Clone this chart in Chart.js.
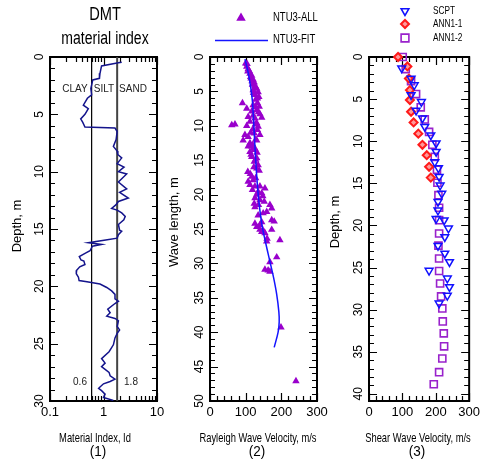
<!DOCTYPE html>
<html>
<head>
<meta charset="utf-8">
<script src="https://cdn.jsdelivr.net/npm/chart.js@4.4.1/dist/chart.umd.min.js"></script>
<style>
  html, body { margin: 0; padding: 0; background: #fff; }
  #wrap { position: relative; width: 484px; height: 464px; }
  #wrap canvas { position: absolute; left: 0; top: 0; }
</style>
</head>
<body>
<div id="wrap">
  <canvas id="c1" width="484" height="464"></canvas>
  <canvas id="c2" width="484" height="464"></canvas>
  <canvas id="c3" width="484" height="464"></canvas>
</div>
<script>
// ---- panel 1 : DMT material index, [Id, depth m] ----
const dmtProfile = [
  [2.19, 0.45], [1.9, 0.5], [0.92, 0.78], [0.86, 1.42], [0.84, 1.86], [0.63, 2.0], [0.58, 2.74],
  [0.6, 3.3], [0.5, 3.6], [0.42, 4.2], [0.52, 4.5], [0.45, 5.0], [0.375, 5.4], [0.41, 5.7],
  [0.45, 6.1], [1.64, 6.2], [1.8, 6.5], [1.72, 7.2], [1.53, 7.8], [1.8, 8.2], [1.85, 8.5],
  [2.19, 8.8], [1.8, 9.3], [2.42, 9.6], [1.9, 10.0], [2.71, 10.2], [1.9, 10.9], [2.71, 11.5],
  [2.0, 11.8], [2.91, 12.3], [1.9, 12.6], [1.7, 12.9], [1.42, 13.2], [1.8, 13.35], [2.19, 13.6],
  [2.55, 13.9], [2.4, 14.2], [1.9, 14.6], [2.0, 15.1], [2.19, 15.2], [1.9, 15.5], [1.8, 15.8],
  [1.1, 15.95], [0.52, 16.2], [0.92, 16.35], [0.62, 16.5], [0.56, 16.9], [0.46, 17.1], [0.353, 17.4],
  [0.38, 17.7], [0.43, 17.8], [0.45, 18.1], [0.36, 18.3], [0.315, 18.6], [0.31, 18.9], [0.34, 19.2],
  [0.35, 19.5], [0.49, 19.6], [0.86, 19.8], [1.15, 20.1], [1.42, 20.4], [1.64, 20.7], [1.64, 21.1],
  [1.9, 21.3], [1.64, 21.5], [1.2, 22.0], [1.33, 22.3], [1.15, 22.6], [1.64, 22.8], [1.9, 23.0],
  [1.8, 23.5], [2.0, 23.8], [1.8, 24.1], [1.64, 24.5], [1.53, 25.1], [1.27, 25.7], [0.92, 26.3],
  [1.07, 26.7], [0.92, 27.0], [1.27, 27.5], [1.33, 27.8], [1.64, 28.1], [1.33, 28.3], [1.0, 28.5],
  [0.85, 28.8], [0.81, 28.9], [0.92, 29.1], [1.07, 29.4], [1.0, 29.7], [1.53, 29.95]
];
const idBounds = [0.6, 1.8];
const idTicks = [0.1, 1, 10];
const idTickLabels = ['0.1', '1', '10'];
const depthTicks1 = [0, 5, 10, 15, 20, 25, 30];

// ---- panel 2 : Rayleigh wave velocity, [m/s, wave length m] ----
const ntu3All = [
  [100, 0.92], [104, 1.0], [103, 1.4], [107, 1.75], [110, 2.0], [106, 2.1], [112, 2.4], [117, 2.7],
  [114, 2.9], [115, 3.1], [121, 3.3], [118, 3.5], [124, 3.7], [119, 4.0], [126, 4.2], [128, 4.4],
  [131, 4.6], [121, 4.8], [135, 5.1], [122, 5.2], [126, 5.5], [137, 5.8], [133, 6.0], [128, 6.2],
  [91, 6.7], [133, 6.7], [121, 7.0], [138, 7.2], [128, 7.3], [103, 7.5], [131, 7.7], [117, 7.9],
  [136, 8.0], [140, 8.3], [121, 8.5], [107, 8.7], [145, 8.8], [126, 8.9], [112, 9.4], [131, 9.6],
  [70, 9.8], [127, 9.8], [61, 9.9], [103, 10.0], [135, 10.1], [120, 10.5], [133, 10.6], [114, 11.0],
  [124, 11.1], [98, 11.3], [140, 11.3], [107, 11.6], [128, 12.0], [93, 12.1], [131, 12.1],
  [112, 12.5], [120, 12.8], [117, 13.0], [107, 13.0], [126, 13.3], [121, 13.3], [126, 13.5],
  [112, 13.8], [132, 13.9], [115, 14.2], [117, 14.5], [131, 14.7], [128, 14.9], [124, 15.2],
  [135, 15.7], [123, 16.0], [131, 16.2], [138, 16.5], [106, 16.7], [113, 17.0], [117, 17.4],
  [128, 17.6], [121, 17.9], [107, 18.1], [112, 18.6], [126, 18.8], [140, 18.8], [154, 19.1],
  [119, 19.3], [135, 19.6], [145, 19.8], [131, 20.0], [148, 20.2], [126, 20.5], [140, 20.8],
  [152, 21.0], [124, 21.3], [168, 21.5], [136, 21.5], [126, 21.8], [173, 22.0], [159, 22.5],
  [149, 22.7], [135, 23.0], [173, 23.7], [180, 23.9], [145, 24.0], [126, 24.2], [140, 24.4],
  [131, 24.7], [140, 25.1], [173, 25.1], [150, 25.3], [145, 25.4], [154, 25.6], [160, 26.4],
  [196, 26.6], [159, 26.8], [187, 29.1], [168, 29.8], [154, 30.9], [163, 31.0], [168, 31.2],
  [199, 39.3], [241, 47.1]
];
const ntu3Fit = [
  [98, 0.3], [106, 2], [113, 4], [119, 6.5], [123, 10], [127, 14], [132, 18], [138, 21.5],
  [146, 24.5], [156, 27], [167, 29.5], [178, 32], [187, 34.5], [193, 37], [194, 38.5],
  [191, 40], [180, 42.2]
];
const velTicks = [0, 100, 200, 300];
const waveTicks = [0, 5, 10, 15, 20, 25, 30, 35, 40, 45, 50];

// ---- panel 3 : shear wave velocity, [m/s, depth m] ----
const scpt = [
  [98, 1.33], [126, 2.56], [135.5, 3.33], [126, 4.5], [157, 5.32], [141, 6.34], [160, 7.26],
  [167, 8.28], [185, 9.28], [201, 10.23], [201, 11.25], [197, 12.48], [208, 13.19], [210, 14.21],
  [213, 15.24], [218, 16.21], [206.6, 17.18], [206.6, 18.2], [201, 19.22], [225, 19.38],
  [238, 20.35], [227, 21.37], [206.6, 22.4], [227, 23.32], [241, 24.34], [180, 25.36],
  [234.6, 26.28], [241, 27.3], [234.6, 28.33], [210, 29.25]
];
const ann11 = [
  [87, 0], [115, 1.12], [119.6, 2.56], [122.5, 3.93], [122.5, 5.11], [126, 6.5], [133.6, 7.77],
  [147.7, 9.1], [160, 10.43], [173, 11.66], [180, 13.04], [185, 14.32]
];
const ann12 = [
  [101, 0], [110, 1.43], [126, 2.86], [141, 4.4], [155, 5.98], [167, 7.41], [180, 8.9],
  [189.8, 10.43], [197, 11.86], [203.6, 13.4], [205, 14.93], [208, 16.41], [210, 17.9],
  [210, 19.38], [210, 20.96], [208, 22.4], [210, 23.93], [210, 25.41], [213, 26.9], [216, 28.43],
  [219.6, 29.86], [221, 31.4], [224, 32.82], [225, 34.36], [219.6, 35.8], [210, 37.43], [194, 38.86]
];
const depthTicks3 = [0, 5, 10, 15, 20, 25, 30, 35, 40];

// ---- layout ----
const W = 484, H = 464, TOP = 57, BOTTOM = 401;
const FONT = "'Liberation Sans', Arial, sans-serif";
const toXY = arr => arr.map(([x, y]) => ({ x, y }));
function range(a, b, s) {
  const r = [];
  for (let v = a; v <= b + 1e-9; v += s) r.push(+v.toFixed(4));
  return r;
}

function txt(ctx, s, x, y, size, o = {}) {
  ctx.save();
  ctx.font = size + 'px ' + FONT;
  ctx.fillStyle = o.color || '#000';
  ctx.textAlign = o.align || 'center';
  ctx.textBaseline = 'middle';
  ctx.translate(x, y);
  if (o.rot) ctx.rotate(o.rot);
  ctx.scale(o.sx || 1, 1);
  ctx.fillText(s, 0, 0);
  ctx.restore();
}

function marker(ctx, style, x, y, radius, fill, stroke, bw, rotation) {
  ctx.save();
  ctx.fillStyle = fill;
  ctx.strokeStyle = stroke;
  ctx.lineWidth = bw;
  Chart.helpers.drawPoint(ctx, { pointStyle: style, radius, rotation: rotation || 0, borderWidth: bw }, x, y);
  ctx.restore();
}

// frame with inward ticks on all four sides
function frame(xMinor, xMajor, yMinor, yMajor) {
  return {
    id: 'frame',
    beforeDatasetsDraw(chart) {
      const { ctx, chartArea: a, scales: { x, y } } = chart;
      ctx.save();
      ctx.strokeStyle = '#000';
      ctx.lineWidth = 1.2;
      ctx.beginPath();
      const vt = (vals, len) => vals.forEach(v => {
        const p = Math.round(x.getPixelForValue(v)) + 0.5;
        ctx.moveTo(p, a.top); ctx.lineTo(p, a.top + len);
        ctx.moveTo(p, a.bottom); ctx.lineTo(p, a.bottom - len);
      });
      const ht = (vals, len) => vals.forEach(v => {
        const p = Math.round(y.getPixelForValue(v)) + 0.5;
        ctx.moveTo(a.left, p); ctx.lineTo(a.left + len, p);
        ctx.moveTo(a.right, p); ctx.lineTo(a.right - len, p);
      });
      vt(xMinor, 5); vt(xMajor, 8); ht(yMinor, 5); ht(yMajor, 8);
      ctx.stroke();
      ctx.lineWidth = 2;
      ctx.strokeRect(a.left, a.top, a.right - a.left, a.bottom - a.top);
      ctx.restore();
    }
  };
}

function options(left, right, xs, ys) {
  return {
    responsive: false,
    animation: false,
    events: [],
    layout: { padding: { top: TOP, right: W - right, bottom: 0, left: 0 } },
    plugins: { legend: { display: false }, tooltip: { enabled: false } },
    scales: {
      x: {
        type: xs.type, min: xs.min, max: xs.max, position: 'bottom',
        grid: { display: false, drawTicks: false }, border: { display: false },
        afterBuildTicks: s => { s.ticks = xs.values.map(v => ({ value: v })); },
        ticks: { autoSkip: false, maxRotation: 0, padding: 4, color: '#000',
          font: { family: FONT, size: 13 }, callback: (v, i) => xs.labels[i] },
        afterFit: s => { s.height = H - BOTTOM; }
      },
      y: {
        type: 'linear', reverse: true, min: ys.min, max: ys.max,
        grid: { display: false, drawTicks: false }, border: { display: false },
        afterBuildTicks: s => { s.ticks = ys.values.map(v => ({ value: v })); },
        ticks: { autoSkip: false, minRotation: 90, maxRotation: 90, crossAlign: 'center', padding: 4,
          color: '#000', font: { family: FONT, size: 12 }, callback: (v, i) => String(ys.values[i]) },
        afterFit: s => { s.width = left; }
      }
    }
  };
}

const logMinor = [];
[0.1, 1].forEach(d => { for (let k = 2; k <= 9; k++) logMinor.push(+(d * k).toFixed(2)); });

// ---- panel 1 ----
new Chart(document.getElementById('c1'), {
  type: 'scatter',
  data: {
    datasets: [
      { label: 'Id', data: toXY(dmtProfile), showLine: true, borderColor: '#14148c', borderWidth: 1.5,
        pointRadius: 0, tension: 0 },
      ...idBounds.map((b, i) => ({
        label: String(b), data: [{ x: b, y: 0 }, { x: b, y: 30 }], showLine: true,
        borderColor: i ? '#444' : '#000', borderWidth: i ? 2 : 1.2, pointRadius: 0
      }))
    ]
  },
  options: options(50, 157,
    { type: 'logarithmic', min: 0.1, max: 10, values: idTicks, labels: idTickLabels },
    { min: 0, max: 30, values: depthTicks1 }),
  plugins: [
    frame(logMinor, idTicks, range(0, 30, 1), depthTicks1),
    {
      id: 'texts1',
      afterDraw(chart) {
        const ctx = chart.ctx;
        txt(ctx, 'DMT', 105, 15, 19, { sx: 0.77 });
        txt(ctx, 'material index', 105, 39, 18, { sx: 0.78 });
        txt(ctx, 'CLAY', 75, 89, 10, { color: '#222' });
        txt(ctx, 'SILT', 104, 89, 10, { color: '#222' });
        txt(ctx, 'SAND', 133, 89, 10, { color: '#222' });
        txt(ctx, '0.6', 80, 382, 10, { color: '#222' });
        txt(ctx, '1.8', 131, 382, 10, { color: '#222' });
        txt(ctx, 'Depth, m', 17, 226, 13, { rot: -Math.PI / 2 });
        txt(ctx, 'Material Index, Id', 95, 438, 13, { sx: 0.72 });
        txt(ctx, '(1)', 98, 452, 15, { sx: 0.9 });
      }
    }
  ]
});

// ---- panel 2 ----
new Chart(document.getElementById('c2'), {
  type: 'scatter',
  data: {
    datasets: [
      { label: 'NTU3-FIT', data: toXY(ntu3Fit), showLine: true, borderColor: '#1414ff', borderWidth: 1.5,
        pointRadius: 0, tension: 0.35 },
      { label: 'NTU3-ALL', data: toXY(ntu3All), pointStyle: 'triangle', pointRadius: 4.3,
        backgroundColor: '#9900cc', borderColor: '#9900cc', borderWidth: 0 }
    ]
  },
  options: options(210, 317,
    { type: 'linear', min: 0, max: 300, values: velTicks, labels: velTicks.map(String) },
    { min: 0, max: 50, values: waveTicks }),
  plugins: [
    frame(range(0, 300, 20), velTicks, range(0, 50, 1), waveTicks),
    {
      id: 'texts2',
      afterDraw(chart) {
        const ctx = chart.ctx;
        marker(ctx, 'triangle', 241, 18, 5.5, '#9900cc', '#9900cc', 0);
        txt(ctx, 'NTU3-ALL', 273, 18, 12.5, { align: 'left', sx: 0.76 });
        ctx.save();
        ctx.strokeStyle = '#1414ff';
        ctx.lineWidth = 1.5;
        ctx.beginPath(); ctx.moveTo(215, 40.5); ctx.lineTo(268, 40.5); ctx.stroke();
        ctx.restore();
        txt(ctx, 'NTU3-FIT', 273, 40, 12.5, { align: 'left', sx: 0.76 });
        txt(ctx, 'Wave length, m', 174, 222, 13, { rot: -Math.PI / 2 });
        txt(ctx, 'Rayleigh Wave Velocity, m/s', 258, 438, 13, { sx: 0.72 });
        txt(ctx, '(2)', 257, 452, 15, { sx: 0.9 });
      }
    }
  ]
});

// ---- panel 3 ----
new Chart(document.getElementById('c3'), {
  type: 'scatter',
  data: {
    datasets: [
      { label: 'SCPT', data: toXY(scpt), pointStyle: 'triangle', pointRotation: 180, pointRadius: 4.5,
        backgroundColor: 'rgba(0,0,0,0)', borderColor: '#1010ff', borderWidth: 1.5, clip: false },
      { label: 'ANN1-1', data: toXY(ann11), pointStyle: 'rectRot', pointRadius: 4,
        backgroundColor: '#ff9a9a', borderColor: '#ff1a1a', borderWidth: 2, clip: false },
      { label: 'ANN1-2', data: toXY(ann12), pointStyle: 'rect', pointRadius: 5,
        backgroundColor: 'rgba(0,0,0,0)', borderColor: '#9922cc', borderWidth: 1.6, clip: false }
    ]
  },
  options: options(369, 476,
    { type: 'linear', min: 0, max: 300, values: velTicks, labels: velTicks.map(String) },
    { min: 0, max: 40.85, values: depthTicks3 }),
  plugins: [
    frame(range(0, 300, 20), velTicks, range(0, 40, 1), depthTicks3),
    {
      id: 'texts3',
      afterDraw(chart) {
        const ctx = chart.ctx;
        marker(ctx, 'triangle', 405, 11, 4.5, 'rgba(0,0,0,0)', '#1010ff', 1.5, 180);
        marker(ctx, 'rectRot', 405, 24, 4, '#ff9a9a', '#ff1a1a', 2);
        marker(ctx, 'rect', 405, 38, 5.5, 'rgba(0,0,0,0)', '#9922cc', 1.6);
        txt(ctx, 'SCPT', 433, 11, 11, { align: 'left', sx: 0.75 });
        txt(ctx, 'ANN1-1', 433, 24, 11, { align: 'left', sx: 0.75 });
        txt(ctx, 'ANN1-2', 433, 38, 11, { align: 'left', sx: 0.75 });
        txt(ctx, 'Depth, m', 335, 222, 13, { rot: -Math.PI / 2 });
        txt(ctx, 'Shear Wave Velocity, m/s', 418, 438, 13, { sx: 0.72 });
        txt(ctx, '(3)', 417, 452, 15, { sx: 0.9 });
      }
    }
  ]
});
</script>
</body>
</html>
